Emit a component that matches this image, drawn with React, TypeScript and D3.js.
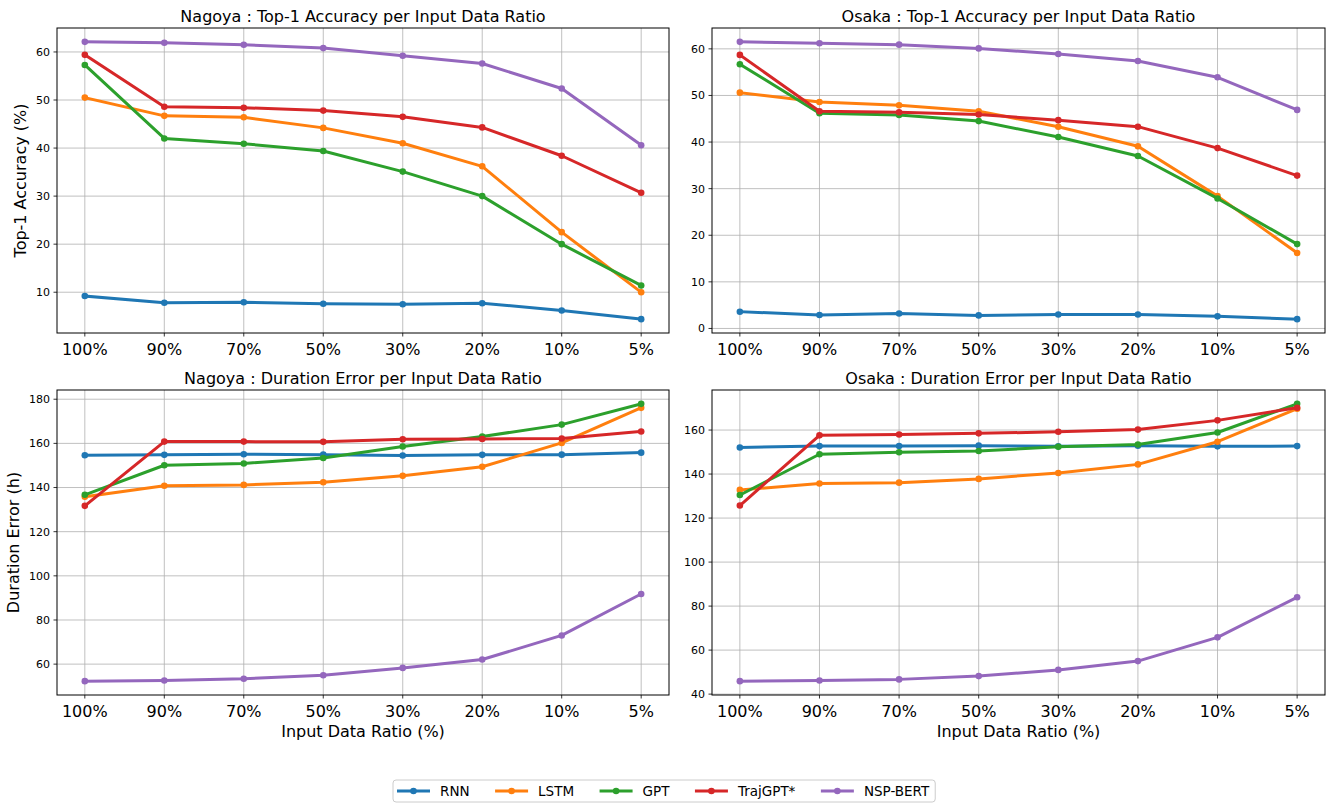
import React, {useEffect, useRef} from 'react';
import * as d3 from 'd3';

const ratios = ['100%', '90%', '70%', '50%', '30%', '20%', '10%', '5%'];
const models = ['RNN', 'LSTM', 'GPT', 'TrajGPT*', 'NSP-BERT'];
const colors = ['#1f77b4', '#ff7f0e', '#2ca02c', '#d62728', '#9467bd'];

// one row per model, same order as `models`
const nagoyaTop1 = [
    [9.2, 7.8, 7.9, 7.6, 7.5, 7.7, 6.2, 4.4],
    [50.5, 46.7, 46.4, 44.2, 41.0, 36.2, 22.5, 10.0],
    [57.3, 42.0, 40.9, 39.4, 35.1, 30.0, 20.0, 11.4],
    [59.4, 48.6, 48.4, 47.8, 46.5, 44.3, 38.4, 30.7],
    [62.1, 61.9, 61.5, 60.8, 59.2, 57.6, 52.4, 40.6],
];
const osakaTop1 = [
    [3.6, 2.9, 3.2, 2.8, 3.0, 3.0, 2.6, 2.0],
    [50.6, 48.6, 47.9, 46.6, 43.3, 39.1, 28.4, 16.2],
    [56.7, 46.2, 45.8, 44.5, 41.1, 37.0, 27.9, 18.1],
    [58.7, 46.6, 46.4, 45.9, 44.7, 43.3, 38.7, 32.8],
    [61.5, 61.2, 60.9, 60.1, 58.9, 57.4, 53.9, 46.9],
];
const nagoyaDuration = [
    [154.6, 154.8, 155.1, 154.9, 154.5, 154.8, 154.9, 155.8],
    [135.8, 140.8, 141.2, 142.4, 145.3, 149.4, 160.2, 176.1],
    [136.7, 150.1, 150.9, 153.4, 158.6, 163.1, 168.5, 177.9],
    [131.7, 160.8, 160.8, 160.7, 161.9, 162.0, 162.2, 165.4],
    [52.3, 52.6, 53.4, 55.0, 58.3, 62.1, 73.0, 91.8],
];
const osakaDuration = [
    [152.1, 152.7, 152.7, 152.9, 152.6, 152.9, 152.6, 152.7],
    [132.8, 135.7, 136.1, 137.8, 140.5, 144.4, 154.7, 169.7],
    [130.5, 149.0, 149.9, 150.5, 152.4, 153.4, 158.9, 171.9],
    [125.7, 157.6, 158.0, 158.5, 159.2, 160.2, 164.4, 170.1],
    [45.9, 46.2, 46.7, 48.2, 51.0, 55.0, 65.8, 84.0],
];

const nagoyaTop1Ticks = [10, 20, 30, 40, 50, 60];
const osakaTop1Ticks = [0, 10, 20, 30, 40, 50, 60];
const nagoyaDurationTicks = [60, 80, 100, 120, 140, 160, 180];
const osakaDurationTicks = [40, 60, 80, 100, 120, 140, 160];

const W = 1333;
const H = 803;
const FONT = '"DejaVu Sans", sans-serif';

const panels = [
    {title: 'Nagoya : Top-1 Accuracy per Input Data Ratio', rows: nagoyaTop1, ticks: nagoyaTop1Ticks,
        left: 57, right: 669, top: 28, bottom: 333, ylabel: 'Top-1 Accuracy (%)', ylabelX: 20, xlabel: false},
    {title: 'Osaka : Top-1 Accuracy per Input Data Ratio', rows: osakaTop1, ticks: osakaTop1Ticks,
        left: 712, right: 1325, top: 28, bottom: 333, ylabel: null, ylabelX: 0, xlabel: false},
    {title: 'Nagoya : Duration Error per Input Data Ratio', rows: nagoyaDuration, ticks: nagoyaDurationTicks,
        left: 57, right: 669, top: 390, bottom: 695, ylabel: 'Duration Error (h)', ylabelX: 13, xlabel: true},
    {title: 'Osaka : Duration Error per Input Data Ratio', rows: osakaDuration, ticks: osakaDurationTicks,
        left: 712, right: 1325, top: 390, bottom: 695, ylabel: null, ylabelX: 0, xlabel: true},
];

export default function App() {
    const svgRef = useRef<SVGSVGElement | null>(null);

    useEffect(() => {
        const svg = d3.select(svgRef.current);
        svg.selectAll('*').remove();
        svg.append('rect').attr('width', W).attr('height', H).attr('fill', 'white');

        panels.forEach(p => {
            const g = svg.append('g');

            // matplotlib-like 5% margins on both axes
            const x = d3.scalePoint().domain(ratios).range([p.left, p.right]).padding(0.35);
            const lo = d3.min(p.rows.flat())!;
            const hi = d3.max(p.rows.flat())!;
            const pad = (hi - lo) * 0.05;
            const y = d3.scaleLinear().domain([lo - pad, hi + pad]).range([p.bottom, p.top]);

            // grid
            g.append('g').selectAll('line').data(ratios).join('line')
                .attr('x1', d => x(d)!).attr('x2', d => x(d)!)
                .attr('y1', p.top).attr('y2', p.bottom)
                .attr('stroke', '#b0b0b0').attr('stroke-width', 0.8);
            g.append('g').selectAll('line').data(p.ticks).join('line')
                .attr('x1', p.left).attr('x2', p.right)
                .attr('y1', d => y(d)).attr('y2', d => y(d))
                .attr('stroke', '#b0b0b0').attr('stroke-width', 0.8);

            // series
            const line = d3.line<number>().x((_, i) => x(ratios[i])!).y(d => y(d));
            p.rows.forEach((row, k) => {
                g.append('path').attr('d', line(row)).attr('fill', 'none')
                    .attr('stroke', colors[k]).attr('stroke-width', 3)
                    .attr('stroke-linejoin', 'round').attr('stroke-linecap', 'square');
                g.append('g').selectAll('circle').data(row).join('circle')
                    .attr('cx', (_, i) => x(ratios[i])!).attr('cy', d => y(d))
                    .attr('r', 3.3).attr('fill', colors[k]);
            });

            // frame
            g.append('rect').attr('x', p.left).attr('y', p.top)
                .attr('width', p.right - p.left).attr('height', p.bottom - p.top)
                .attr('fill', 'none').attr('stroke', 'black').attr('stroke-width', 1);

            // x ticks
            const xt = g.append('g').selectAll('g').data(ratios).join('g');
            xt.append('line').attr('x1', d => x(d)!).attr('x2', d => x(d)!)
                .attr('y1', p.bottom).attr('y2', p.bottom + 3.5).attr('stroke', 'black').attr('stroke-width', 0.8);
            xt.append('text').attr('x', d => x(d)!).attr('y', p.bottom + 22)
                .attr('text-anchor', 'middle').style('font-family', FONT).style('font-size', '16px')
                .text(d => d);

            // y ticks
            const yt = g.append('g').selectAll('g').data(p.ticks).join('g');
            yt.append('line').attr('x1', p.left - 3.5).attr('x2', p.left)
                .attr('y1', d => y(d)).attr('y2', d => y(d)).attr('stroke', 'black').attr('stroke-width', 0.8);
            yt.append('text').attr('x', p.left - 7).attr('y', d => y(d)).attr('dy', '0.35em')
                .attr('text-anchor', 'end').style('font-family', FONT).style('font-size', '11px')
                .text(d => d);

            // titles
            g.append('text').attr('x', (p.left + p.right) / 2).attr('y', p.top - 12).attr('dy', '0.35em')
                .attr('text-anchor', 'middle').style('font-family', FONT).style('font-size', '16px')
                .text(p.title);
            if (p.ylabel) {
                g.append('text')
                    .attr('transform', `translate(${p.ylabelX},${(p.top + p.bottom) / 2}) rotate(-90)`)
                    .attr('dy', '0.35em').attr('text-anchor', 'middle')
                    .style('font-family', FONT).style('font-size', '16px').text(p.ylabel);
            }
            if (p.xlabel) {
                g.append('text').attr('x', (p.left + p.right) / 2).attr('y', p.bottom + 36).attr('dy', '0.35em')
                    .attr('text-anchor', 'middle').style('font-family', FONT).style('font-size', '16px')
                    .text('Input Data Ratio (%)');
            }
        });

        // legend
        const lg = svg.append('g');
        const box = lg.append('rect').attr('y', 780).attr('height', 22).attr('rx', 3)
            .attr('fill', 'white').attr('stroke', '#cccccc').attr('stroke-width', 1);
        let cx = 397;
        const cy = 791;
        const gap = 25.5;
        models.forEach((m, k) => {
            lg.append('line').attr('x1', cx).attr('x2', cx + 33).attr('y1', cy).attr('y2', cy)
                .attr('stroke', colors[k]).attr('stroke-width', 3);
            lg.append('circle').attr('cx', cx + 16.5).attr('cy', cy).attr('r', 3.3).attr('fill', colors[k]);
            const t = lg.append('text').attr('x', cx + 43).attr('y', cy).attr('dy', '0.35em')
                .style('font-family', FONT).style('font-size', '13.5px').text(m);
            const w = (t.node() as SVGTextElement).getComputedTextLength();
            cx = cx + 43 + w + gap;
        });
        box.attr('x', 393).attr('width', cx - gap + 6 - 393);
    }, []);

    return (
        <svg ref={svgRef} width={W} height={H}
             style={{position: 'absolute', left: 0, top: 0, display: 'block'}}/>
    );
}
